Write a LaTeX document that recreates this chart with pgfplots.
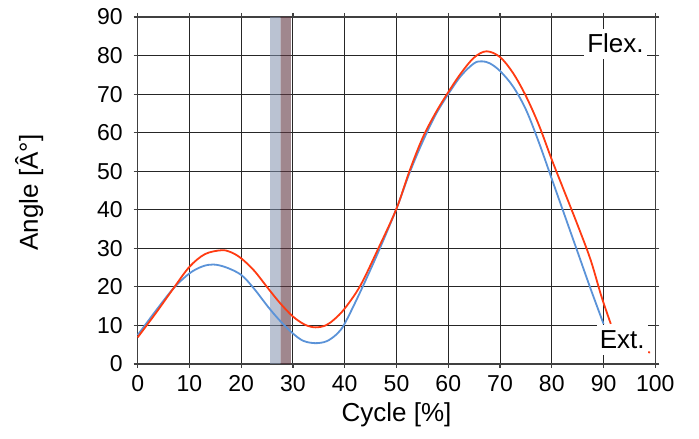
\documentclass[border=0pt]{standalone}
\usepackage{pgfplots}
\pgfplotsset{compat=1.18}
\usepackage{fontspec}
\setmainfont{Liberation Sans}
\definecolor{cred}{HTML}{FF3B12}
\definecolor{cblue}{HTML}{5B93D8}
\definecolor{bandA}{HTML}{8190AD}
\definecolor{bandB}{HTML}{603742}
\begin{document}
\begin{tikzpicture}
\begin{axis}[
  scale only axis,
  width=258.8pt, height=173.5pt,
  xmin=0, xmax=100, ymin=0, ymax=90,
  xtick={0,10,...,100}, ytick={0,10,...,90},
  grid=major,
  major grid style={black!85, line width=0.5pt},
  axis line style={black!75, line width=0.6pt},
  tick style={black!75, line width=0.6pt},
  tick align=outside,
  major tick length=2pt,
  /pgf/number format/assume math mode=true,
  ticklabel style={font=\fontsize{11.5}{13}\selectfont},
  xticklabel style={yshift=-0.3pt},
  yticklabel style={xshift=-2pt},
  label style={font=\fontsize{13}{15}\selectfont},
  xlabel={Cycle [\%]},
  ylabel={Angle [Â°]},
  xlabel style={at={(axis description cs:0.5,-0.147)}, anchor=center},
  ylabel style={at={(axis description cs:-0.2096,0.494)}, anchor=center},
  clip=false,
]
\addplot [draw=none, fill=bandA, fill opacity=0.55] coordinates {(25.6,0) (25.6,90) (27.6,90) (27.6,0)} \closedcycle;
\addplot [draw=none, fill=bandB, fill opacity=0.6] coordinates {(27.6,0) (27.6,90) (29.6,90) (29.6,0)} \closedcycle;
% blue curve
\addplot [cblue, line width=0.9pt, smooth, tension=0.55] coordinates {
(0,7.5) (3.5,13.8) (6.9,19.6) (10,23.5) (12.5,25.3) (14.6,25.8) (17,25.1) (20,23.1) (22.5,19.5) (25.2,14.8) (27.5,11.2) (30,7.9) (32,6) (34.3,5.4) (36.5,5.9) (38.5,7.8) (40,10.5) (43,18.7) (46.5,29.1) (50,40.3) (52.5,49.5) (55,57.5) (57.5,64.5) (60,70) (62.5,74.8) (65,78) (66.5,78.5) (68,78) (70,76) (72.5,72) (75,66) (77.5,57.5) (80,48) (82.5,38.5) (85,29) (87.5,19.5) (90,10.4)
};
% red curve
\addplot [cred, line width=0.9pt, smooth, tension=0.55] coordinates {
(0,6.9) (3.5,13.2) (6.9,19.6) (10,25.2) (13,28.5) (16.2,29.5) (18,29) (20,27.4) (22.5,24.2) (25.2,19.6) (27.5,15.8) (30,12.3) (32.3,10.2) (34.3,9.5) (36.3,10) (38,11.6) (40,14.4) (43,20.3) (46.5,30) (50,40.3) (52.5,50) (55,58.5) (57.5,65) (60,70.5) (62.5,75.5) (65,79.5) (67.4,81.1) (70,79.6) (72.5,75.5) (75,69.5) (77.5,62) (80,53) (82.5,44.5) (85,36) (87.5,27) (89.6,17.5) (91.4,10.4)
};
\addplot [cred, line width=0.9pt] coordinates {(98.2,3.1) (99.0,3.0)};
\addplot [cblue, line width=0.8pt] coordinates {(98.0,2.7) (98.4,2.6)};
\node [fill=white, inner xsep=1.5pt, inner ysep=0pt, minimum height=15pt, font=\fontsize{13}{15}\selectfont] at (axis cs:92.3,83.1) {Flex.};
\node [fill=white, inner xsep=1.5pt, inner ysep=0pt, minimum height=15pt, font=\fontsize{13}{15}\selectfont] at (axis cs:93.6,6.2) {Ext.};
\end{axis}
\path (current axis.south west) ++(-68.85pt,-37.5pt) coordinate (bbl);
\path (current axis.north east) ++(21.85pt,8.5pt) coordinate (btr);
\pgfresetboundingbox
\path[use as bounding box] (bbl) rectangle (btr);
\end{tikzpicture}
\end{document}
